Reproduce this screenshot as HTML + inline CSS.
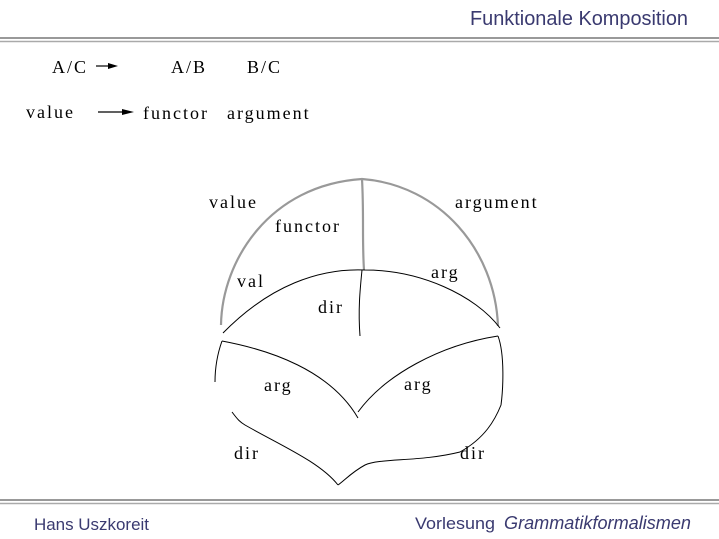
<!DOCTYPE html>
<html><head><meta charset="utf-8"><style>
html,body{margin:0;padding:0;background:#fff;width:719px;height:539px;overflow:hidden}
svg{display:block}
.s{font-family:"Liberation Serif",serif;font-size:18px;fill:#000;letter-spacing:2px}
.h{font-family:"Liberation Sans",sans-serif;fill:#3a3a70}
</style></head><body>
<svg width="719" height="539" viewBox="0 0 719 539" xmlns="http://www.w3.org/2000/svg">
<text x="688" y="25" text-anchor="end" class="h" font-size="20" textLength="218" lengthAdjust="spacingAndGlyphs">Funktionale Komposition</text>
<line x1="0" y1="38" x2="719" y2="38" stroke="#999" stroke-width="2"/>
<line x1="0" y1="41.5" x2="719" y2="41.5" stroke="#aaa" stroke-width="1.5"/>
<line x1="0" y1="500" x2="719" y2="500" stroke="#999" stroke-width="2"/>
<line x1="0" y1="503.5" x2="719" y2="503.5" stroke="#aaa" stroke-width="1.5"/>
<text x="34" y="530" class="h" font-size="17" textLength="115" lengthAdjust="spacingAndGlyphs">Hans Uszkoreit</text>
<text x="415" y="529" class="h" font-size="17" textLength="80" lengthAdjust="spacingAndGlyphs">Vorlesung</text>
<text x="504" y="529" class="h" font-size="18" font-style="italic" textLength="187" lengthAdjust="spacingAndGlyphs">Grammatikformalismen</text>

<text x="52" y="73" class="s">A/C</text>
<line x1="96" y1="66" x2="112" y2="66" stroke="#000" stroke-width="1.2"/>
<path d="M108,63 L118,66 L108,69Z" fill="#000"/>
<text x="171" y="73" class="s">A/B</text>
<text x="247" y="73" class="s">B/C</text>
<text x="26" y="118" class="s">value</text>
<line x1="98" y1="112" x2="126" y2="112" stroke="#000" stroke-width="1.2"/>
<path d="M122,109 L134,112 L122,115Z" fill="#000"/>
<text x="143" y="119" class="s">functor</text>
<text x="227" y="119" class="s">argument</text>

<g fill="none" stroke="#999" stroke-width="2.2">
<path d="M221,325 C222,260 270,185 362,179 C440,185 495,250 498,326"/>
<path d="M362,179 C364,215 362,240 364,270"/>
</g>
<g fill="none" stroke="#000" stroke-width="1">
<path d="M223,333 C270,285 320,268 365,270 C420,270 475,295 500,328"/>
<path d="M362,270 C360,290 358,310 360,336"/>
<path d="M222,341 C270,350 330,370 358,418"/>
<path d="M358,412 C385,375 440,345 498,336"/>
<path d="M222,341 C217,355 215,370 215,382"/>
<path d="M498,336 C505,355 503,390 501,405 C495,420 485,438 460,452 C420,462 380,458 365,465 C352,472 345,480 338,485"/>
<path d="M232,412 C238,420 240,422 245,425 C280,445 320,462 338,485"/>
</g>

<text x="209" y="208" class="s">value</text>
<text x="455" y="208" class="s">argument</text>
<text x="275" y="232" class="s">functor</text>
<text x="237" y="287" class="s">val</text>
<text x="431" y="278" class="s">arg</text>
<text x="318" y="313" class="s">dir</text>
<text x="264" y="391" class="s">arg</text>
<text x="404" y="390" class="s">arg</text>
<text x="234" y="459" class="s">dir</text>
<text x="460" y="459" class="s">dir</text>
</svg>
</body></html>
